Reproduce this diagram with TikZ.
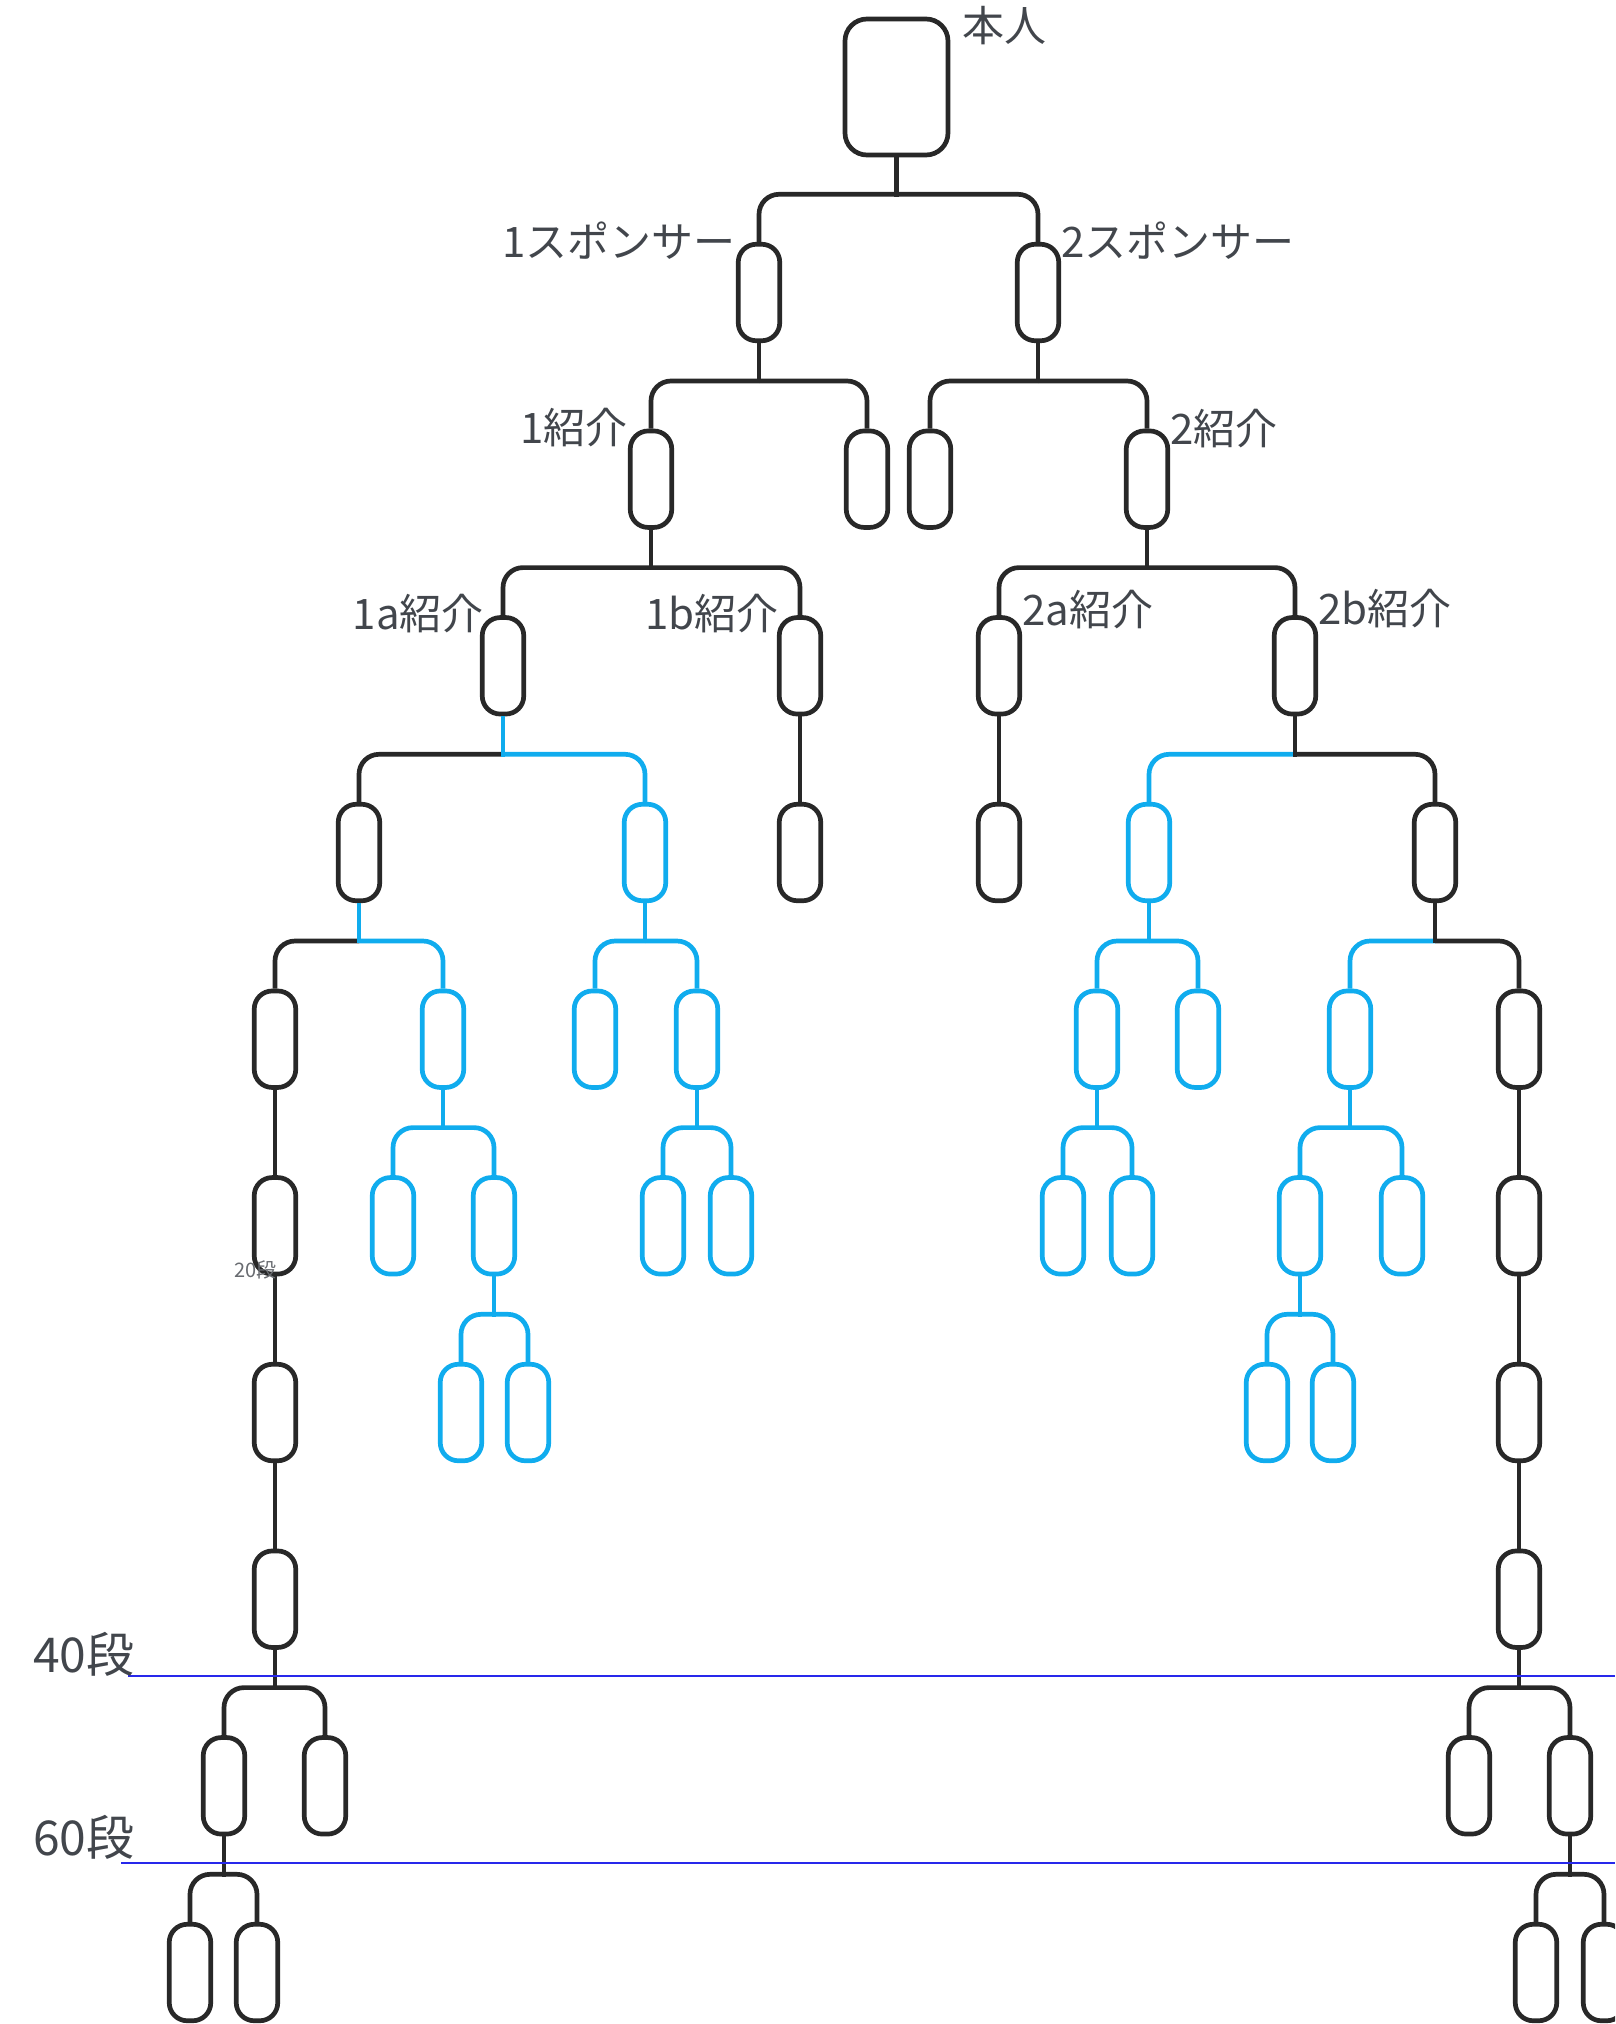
\documentclass[tikz,border=0pt]{standalone}
\usepackage{fontspec}
\newfontfamily\jpfont{Noto Sans CJK JP}
\usetikzlibrary{calc}
\definecolor{dk}{RGB}{40,40,40}
\definecolor{bl}{RGB}{16,172,238}
\definecolor{tx}{RGB}{66,70,76}
\definecolor{gl}{RGB}{40,40,235}
\tikzset{
  pill/.style={draw=#1, line width=4.7pt, fill=white, rounded corners=18pt,
    minimum width=41.5pt, minimum height=96.5pt, inner sep=0pt},
  pill/.default=dk,
  cn/.style={line width=4.7pt, draw=#1},
  cn/.default=dk,
  lbl/.style={font=\jpfont\fontsize{42}{50}\selectfont, text=tx, inner sep=0pt},
  lvl/.style={font=\jpfont\fontsize{48}{56}\selectfont, text=tx, inner sep=0pt},
  guide/.style={draw=gl, line width=1.6pt}
}
\newcommand\stemdn[3]{\draw[cn=#3] (#1.south) -- ($(#1.south |- #2.north)+(0,-45.3)$);}
\newcommand\brto[3]{\draw[cn=#3, rounded corners=20pt] ($(#1.south |- #2.north)+(0,-47.6)$) -| (#2.north);}
\newcommand\onechild[3]{\draw[cn=#3] (#1.south) -- (#2.north);}
\begin{document}
\begin{tikzpicture}[x=1pt,y=-1pt]
\useasboundingbox (0,0) rectangle (1615,2024);
\clip (0,0) rectangle (1615,2024);
% root
\node[draw=dk, line width=4.7pt, fill=white, rounded corners=22pt, minimum width=103pt, minimum height=136pt, inner sep=0pt] (r) at (896.5,87) {};
% level 1
\node[pill] (s1) at (759,292.5) {};
\node[pill] (s2) at (1038,292.5) {};
% level 2
\node[pill] (a) at (651,479.2) {};
\node[pill] (b) at (867,479.2) {};
\node[pill] (c) at (930,479.2) {};
\node[pill] (d) at (1147,479.2) {};
% level 3
\node[pill] (a1) at (503,665.8) {};
\node[pill] (a2) at (800,665.8) {};
\node[pill] (d1) at (999,665.8) {};
\node[pill] (d2) at (1295,665.8) {};
% level 4
\node[pill] (e1) at (359,852.5) {};
\node[pill=bl] (e2) at (645,852.5) {};
\node[pill] (e3) at (800,852.5) {};
\node[pill] (e4) at (999,852.5) {};
\node[pill=bl] (e5) at (1149,852.5) {};
\node[pill] (e6) at (1435,852.5) {};
% level 5
\node[pill] (f1) at (275,1039.2) {};
\node[pill=bl] (f2) at (443,1039.2) {};
\node[pill=bl] (f3) at (595,1039.2) {};
\node[pill=bl] (f4) at (697,1039.2) {};
\node[pill=bl] (f5) at (1097,1039.2) {};
\node[pill=bl] (f6) at (1198,1039.2) {};
\node[pill=bl] (f7) at (1350,1039.2) {};
\node[pill] (f8) at (1519,1039.2) {};
% level 6
\node[pill] (g1) at (275,1225.8) {};
\node[pill=bl] (g2) at (393,1225.8) {};
\node[pill=bl] (g3) at (494,1225.8) {};
\node[pill=bl] (g4) at (663,1225.8) {};
\node[pill=bl] (g5) at (731,1225.8) {};
\node[pill=bl] (g6) at (1063,1225.8) {};
\node[pill=bl] (g7) at (1132,1225.8) {};
\node[pill=bl] (g8) at (1300,1225.8) {};
\node[pill=bl] (g9) at (1402,1225.8) {};
\node[pill] (g10) at (1519,1225.8) {};
% level 7
\node[pill] (h1) at (275,1412.5) {};
\node[pill=bl] (h2) at (461,1412.5) {};
\node[pill=bl] (h3) at (528,1412.5) {};
\node[pill=bl] (h4) at (1267,1412.5) {};
\node[pill=bl] (h5) at (1333,1412.5) {};
\node[pill] (h6) at (1519,1412.5) {};
% level 8
\node[pill] (i1) at (275,1599.2) {};
\node[pill] (i2) at (1519,1599.2) {};
% level 9
\node[pill] (j1) at (224,1785.8) {};
\node[pill] (j2) at (325,1785.8) {};
\node[pill] (j3) at (1469,1785.8) {};
\node[pill] (j4) at (1570,1785.8) {};
% level 10
\node[pill] (k1) at (190,1972.5) {};
\node[pill] (k2) at (257,1972.5) {};
\node[pill] (k3) at (1536,1972.5) {};
\node[pill] (k4) at (1604,1972.5) {};
% connectors
\brto{r}{s1}{dk} \brto{r}{s2}{dk} \stemdn{r}{s1}{dk}
\brto{s1}{a}{dk} \brto{s1}{b}{dk} \stemdn{s1}{a}{dk}
\brto{s2}{c}{dk} \brto{s2}{d}{dk} \stemdn{s2}{c}{dk}
\brto{a}{a1}{dk} \brto{a}{a2}{dk} \stemdn{a}{a1}{dk}
\brto{d}{d1}{dk} \brto{d}{d2}{dk} \stemdn{d}{d1}{dk}
\brto{a1}{e1}{dk} \brto{a1}{e2}{bl} \stemdn{a1}{e1}{bl}
\onechild{a2}{e3}{dk}
\onechild{d1}{e4}{dk}
\brto{d2}{e5}{bl} \brto{d2}{e6}{dk} \stemdn{d2}{e5}{dk}
\brto{e1}{f1}{dk} \brto{e1}{f2}{bl} \stemdn{e1}{f1}{bl}
\brto{e2}{f3}{bl} \brto{e2}{f4}{bl} \stemdn{e2}{f3}{bl}
\brto{e5}{f5}{bl} \brto{e5}{f6}{bl} \stemdn{e5}{f5}{bl}
\brto{e6}{f7}{bl} \brto{e6}{f8}{dk} \stemdn{e6}{f7}{dk}
\onechild{f1}{g1}{dk}
\brto{f2}{g2}{bl} \brto{f2}{g3}{bl} \stemdn{f2}{g2}{bl}
\brto{f4}{g4}{bl} \brto{f4}{g5}{bl} \stemdn{f4}{g4}{bl}
\brto{f5}{g6}{bl} \brto{f5}{g7}{bl} \stemdn{f5}{g6}{bl}
\brto{f7}{g8}{bl} \brto{f7}{g9}{bl} \stemdn{f7}{g8}{bl}
\onechild{f8}{g10}{dk}
\onechild{g1}{h1}{dk}
\brto{g3}{h2}{bl} \brto{g3}{h3}{bl} \stemdn{g3}{h2}{bl}
\brto{g8}{h4}{bl} \brto{g8}{h5}{bl} \stemdn{g8}{h4}{bl}
\onechild{g10}{h6}{dk}
\onechild{h1}{i1}{dk}
\onechild{h6}{i2}{dk}
\brto{i1}{j1}{dk} \brto{i1}{j2}{dk} \stemdn{i1}{j1}{dk}
\brto{i2}{j3}{dk} \brto{i2}{j4}{dk} \stemdn{i2}{j3}{dk}
\brto{j1}{k1}{dk} \brto{j1}{k2}{dk} \stemdn{j1}{k1}{dk}
\brto{j4}{k3}{dk} \brto{j4}{k4}{dk} \stemdn{j4}{k3}{dk}
% labels
\node[lbl, anchor=west] (t0) at ($(r.north east)+(12,9)$) {本人};
\node[lbl, anchor=east] (t1) at ($(s1.north west)+(0,-1)$) {1スポンサー};
\node[lbl, anchor=west] (t2) at ($(s2.north east)+(0,-1)$) {2スポンサー};
\node[lbl, anchor=east] (t3) at ($(a.north west)+(0,-1)$) {1紹介};
\node[lbl, anchor=west] (t4) at ($(d.north east)+(0,0)$) {2紹介};
\node[lbl, anchor=east] (t5) at ($(a1.north west)+(4,-2)$) {1a紹介};
\node[lbl, anchor=east] (t6) at ($(a2.north west)+(2,-2)$) {1b紹介};
\node[lbl, anchor=west] (t7) at ($(d1.north east)+(0,-6)$) {2a紹介};
\node[lbl, anchor=west] (t8) at ($(d2.north east)+(0,-7)$) {2b紹介};
\node[font=\jpfont\fontsize{20}{24}\selectfont, text=tx!80, inner sep=0pt, anchor=base west] (t20) at (234,1277) {20段};
% guide lines
\coordinate (g40a) at (128,1676);
\coordinate (g40b) at (1615,1676);
\coordinate (g60a) at (121,1863);
\coordinate (g60b) at (1615,1863);
\draw[guide] (g40a) -- (g40b);
\draw[guide] (g60a) -- (g60b);
\node[lvl, anchor=base west] (t40) at (33,1672) {40段};
\node[lvl, anchor=base west] (t60) at (33,1855) {60段};
\end{tikzpicture}
\end{document}
